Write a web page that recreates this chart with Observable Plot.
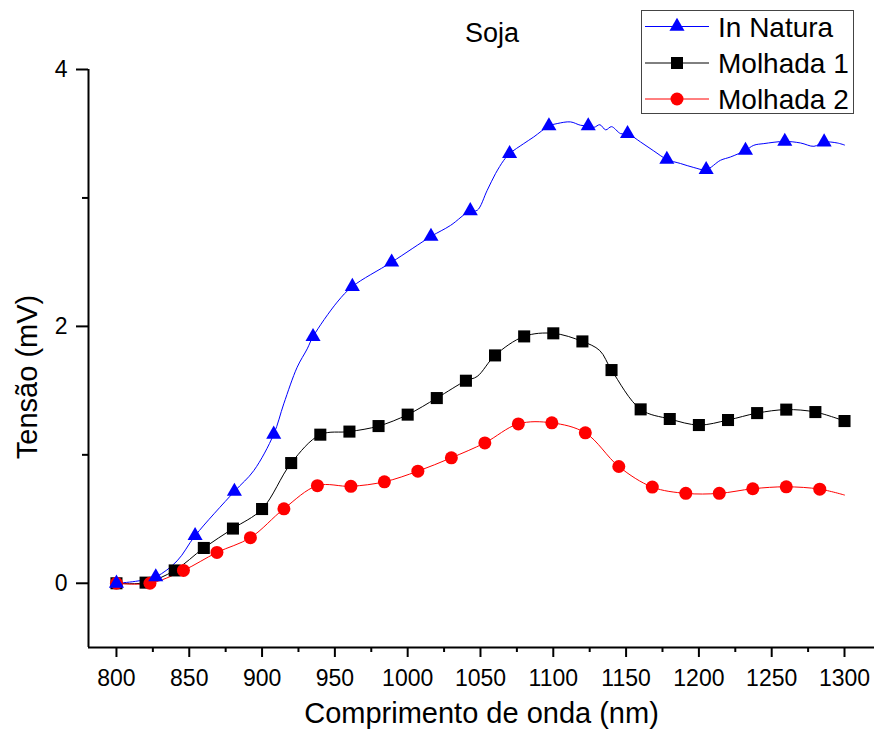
<!DOCTYPE html>
<html>
<head>
<meta charset="utf-8">
<script src="https://cdn.jsdelivr.net/npm/d3@7"></script>
<script src="https://cdn.jsdelivr.net/npm/@observablehq/plot@0.6"></script>
<style>
  body { margin: 0; background: #fff; font-family: "Liberation Sans", Arial, sans-serif; }
  #wrap { position: relative; width: 874px; height: 738px; }
  #title { position: absolute; left: 392px; top: 20px; width: 200px; text-align: center;
           font-size: 27px; line-height: 27px; color: #000; }
  #overlay { position: absolute; left: 0; top: 0; pointer-events: none; }
</style>
</head>
<body>
<div id="wrap">
  <div id="chart"></div>
  <div id="title">Soja</div>
  <svg id="overlay" width="874" height="738"></svg>
</div>
<script>
// ---- Data ----
const seriesNames = ["In Natura", "Molhada 1", "Molhada 2"];
const seriesColors = ["#0000ff", "#000000", "#ff0000"];
const seriesSymbols = ["triangle", "square", "circle"];

// In Natura: markers
const naturaMarkX = [800, 827, 854, 881, 908, 935, 962, 989, 1016, 1043, 1070, 1097, 1124, 1151, 1178, 1205, 1232, 1259, 1286];
const naturaMarkY = [0, 0.05, 0.37, 0.715, 1.16, 1.92, 2.31, 2.50, 2.70, 2.90, 3.345, 3.56, 3.56, 3.50, 3.30, 3.22, 3.37, 3.44, 3.435];
// In Natura: line
const naturaLineX = [800, 813, 827, 841.7, 854, 881, 894.3, 908, 914.9, 924.1, 931, 935, 951.6, 962, 989, 1016, 1029.4, 1043, 1047.7, 1054.6, 1060.3, 1066, 1070, 1079.7, 1086.6, 1097, 1102.7, 1111.8, 1118.7, 1124, 1128, 1132, 1136, 1140, 1146.2, 1151, 1159.9, 1169, 1178, 1187.4, 1196.5, 1205, 1214.8, 1221.7, 1232, 1237.7, 1244.6, 1259, 1269.8, 1279, 1286, 1295, 1300];
const naturaLineY = [0, 0.015, 0.05, 0.175, 0.37, 0.715, 0.877, 1.16, 1.397, 1.682, 1.825, 1.92, 2.189, 2.31, 2.50, 2.70, 2.786, 2.90, 2.903, 3.059, 3.189, 3.293, 3.345, 3.423, 3.475, 3.56, 3.579, 3.592, 3.566, 3.56, 3.55, 3.57, 3.53, 3.555, 3.501, 3.50, 3.436, 3.366, 3.30, 3.268, 3.237, 3.22, 3.293, 3.319, 3.37, 3.41, 3.423, 3.44, 3.428, 3.402, 3.435, 3.428, 3.412];

// Molhada 1
const m1MarkX = [800, 820, 840, 860, 880, 900, 920, 940, 960, 980, 1000, 1020, 1040, 1060, 1080, 1100, 1120, 1140, 1160, 1180, 1200, 1220, 1240, 1260, 1280, 1300];
const m1MarkY = [0, 0.005, 0.10, 0.275, 0.426, 0.578, 0.936, 1.157, 1.181, 1.224, 1.313, 1.442, 1.577, 1.774, 1.922, 1.946, 1.883, 1.660, 1.354, 1.279, 1.232, 1.271, 1.325, 1.352, 1.333, 1.263];
const m1LineX = [800, 820, 840, 860, 880, 900, 920, 940, 960, 980, 1000, 1020, 1040, 1047.7, 1060, 1080, 1100, 1120, 1131.9, 1140, 1160, 1180, 1200, 1220, 1240, 1260, 1280, 1300];
const m1LineY = [0, 0.005, 0.10, 0.275, 0.426, 0.578, 0.936, 1.157, 1.181, 1.224, 1.313, 1.442, 1.577, 1.61, 1.774, 1.922, 1.946, 1.883, 1.812, 1.660, 1.354, 1.279, 1.232, 1.271, 1.325, 1.352, 1.333, 1.263];

// Molhada 2
const m2MarkX = [800, 823, 846, 869, 892, 915, 938, 961, 984, 1007, 1030, 1053, 1076, 1099, 1122, 1145, 1168, 1191, 1214, 1237, 1260, 1283];
const m2MarkY = [0, 0.0, 0.10, 0.24, 0.355, 0.58, 0.76, 0.755, 0.79, 0.873, 0.977, 1.093, 1.241, 1.249, 1.171, 0.909, 0.749, 0.700, 0.700, 0.736, 0.751, 0.733];
const m2LineX = [...m2MarkX, 1300];
const m2LineY = [...m2MarkY, 0.687];

// Axes
const xDomain = [780.8, 1320.6];
const yDomain = [-0.5, 4];
const xMajor = [800, 850, 900, 950, 1000, 1050, 1100, 1150, 1200, 1250, 1300];
const xMinor = [825, 875, 925, 975, 1025, 1075, 1125, 1175, 1225, 1275];
const yMajor = [0, 2, 4];
const yMinor = [1, 3];
const xLabel = "Comprimento de onda (nm)";
const yLabel = "Tensão (mV)";

// ---- Build tables ----
const zipXY = (xs, ys) => xs.map((x, i) => ({x, y: ys[i]}));
const lines = [zipXY(naturaLineX, naturaLineY), zipXY(m1LineX, m1LineY), zipXY(m2LineX, m2LineY)];
const marks = [zipXY(naturaMarkX, naturaMarkY), zipXY(m1MarkX, m1MarkY), zipXY(m2MarkX, m2MarkY)];
const radii = [5.6, 6.8, 6.5];
const drawOrder = [1, 2, 0];

const seriesMarks = [];
for (const i of drawOrder) {
  seriesMarks.push(Plot.line(lines[i], {x: "x", y: "y", stroke: seriesColors[i], strokeWidth: 1, curve: "catmull-rom"}));
}
for (const i of drawOrder) {
  seriesMarks.push(Plot.dot(marks[i], {x: "x", y: "y", fill: seriesColors[i], stroke: "none", symbol: seriesSymbols[i], r: radii[i]}));
}

const chart = Plot.plot({
  width: 874,
  height: 738,
  marginLeft: 88,
  marginRight: 0,
  marginTop: 69,
  marginBottom: 91,
  x: {domain: xDomain},
  y: {domain: yDomain},
  style: {fontFamily: "'Liberation Sans', Arial, sans-serif", fontSize: "23px", color: "#000", background: "#fff", overflow: "visible"},
  marks: [
    Plot.axisX({ticks: xMajor, tickSize: 10, tickPadding: 12, strokeWidth: 2, fontSize: 23, label: null, tickFormat: d => String(d)}),
    Plot.axisX({ticks: xMinor, tickSize: 5, strokeWidth: 2, text: null, label: null}),
    Plot.axisY({ticks: yMajor, tickSize: 12, tickPadding: 9, strokeWidth: 2, fontSize: 23, label: null, tickFormat: d => String(d)}),
    Plot.axisY({ticks: yMinor, tickSize: 6, strokeWidth: 2, text: null, label: null}),
    Plot.ruleX([xDomain[0]], {strokeWidth: 2, stroke: "#000"}),
    Plot.ruleY([yDomain[0]], {strokeWidth: 2, stroke: "#000"}),
    Plot.text([xLabel], {text: d => d, frameAnchor: "bottom", dy: 75, fontSize: 29, fill: "#000"}),
    ...seriesMarks
  ]
});
document.getElementById("chart").appendChild(chart);

// ---- Overlay: y label and legend ----
const ov = d3.select("#overlay");
ov.append("text")
  .attr("transform", "translate(37,377) rotate(-90)")
  .attr("text-anchor", "middle")
  .attr("font-size", 29)
  .attr("font-family", "'Liberation Sans', Arial, sans-serif")
  .attr("fill", "#000")
  .text(yLabel);

ov.append("rect").attr("x", 641.5).attr("y", 10.5).attr("width", 212).attr("height", 103)
  .attr("fill", "#fff").attr("stroke", "#444").attr("stroke-width", 1);
const rowY = [26.5, 63, 99];
const symMap = {triangle: d3.symbolTriangle, square: d3.symbolSquare, circle: d3.symbolCircle};
seriesNames.forEach((name, i) => {
  const g = ov.append("g");
  g.append("line").attr("x1", 645).attr("x2", 709).attr("y1", rowY[i]).attr("y2", rowY[i])
    .attr("stroke", seriesColors[i]).attr("stroke-width", 1);
  g.append("path").attr("transform", `translate(677,${rowY[i]})`)
    .attr("d", d3.symbol(symMap[seriesSymbols[i]], Math.PI * radii[i] * radii[i])())
    .attr("fill", seriesColors[i]);
  g.append("text").attr("x", 718).attr("y", rowY[i] + 10).attr("font-size", 28)
    .attr("font-family", "'Liberation Sans', Arial, sans-serif").attr("fill", "#000").text(name);
});
</script>
</body>
</html>
